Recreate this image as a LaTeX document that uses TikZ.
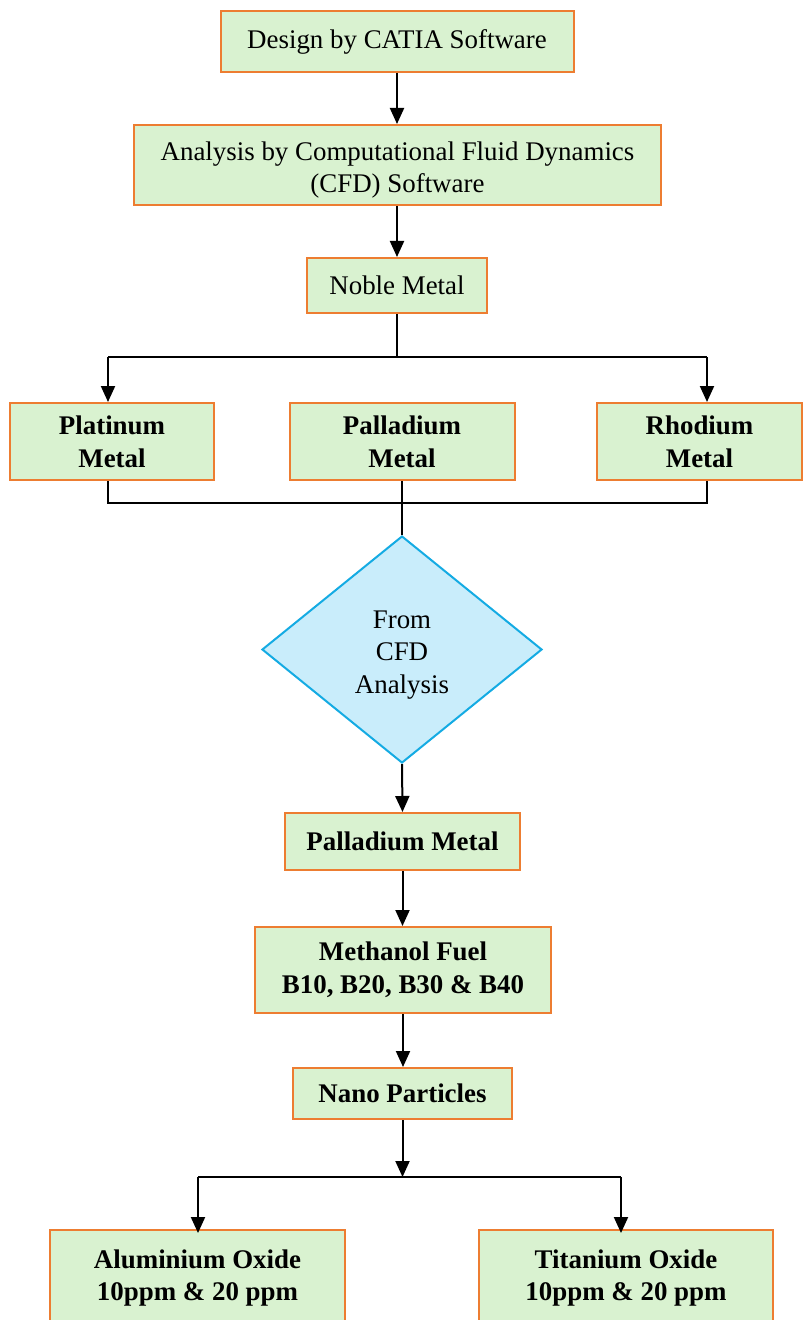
\documentclass[tikz,border=0pt]{standalone}
\usepackage{fontspec}
\setmainfont{Liberation Serif}
\usetikzlibrary{arrows.meta,shapes.geometric}
\definecolor{boxfill}{HTML}{D9F2D0}
\definecolor{boxline}{HTML}{ED7D31}
\definecolor{dfill}{HTML}{C9EDFB}
\definecolor{dline}{HTML}{14ABE3}
\newcommand{\dn}[2]{\raisebox{-#1}[\height][\depth]{\begin{tabular}{@{}c@{}}#2\end{tabular}}}
\begin{document}
\begin{tikzpicture}[x=1bp,y=-1bp,
 box/.style={draw=boxline,fill=boxfill,line width=2bp,align=center,inner sep=0pt,font=\fontsize{27}{32.5}\selectfont},
 bbox/.style={box,font=\fontsize{27}{33}\selectfont\bfseries},
 conn/.style={line width=2bp,black},
 arr/.style={conn,-{Triangle[width=14bp,length=16bp]}}]
\useasboundingbox (0,0) rectangle (803,1320);
\clip (0,0) rectangle (803,1320);
\node[box,minimum width=353bp,minimum height=61bp] (design) at (397,41.5) {Design by CATIA Software};
\node[box,minimum width=527bp,minimum height=80bp] (cfd) at (397.5,165) {\dn{5bp}{Analysis by Computational Fluid Dynamics\\(CFD) Software}};
\node[box,minimum width=180bp,minimum height=55bp] (noble) at (397,285.5) {Noble Metal};
\node[bbox,minimum width=204bp,minimum height=77bp] (plat) at (112,441.5) {\dn{3bp}{Platinum\\Metal}};
\node[bbox,minimum width=225bp,minimum height=77bp] (pall) at (402,441.5) {\dn{3bp}{Palladium\\Metal}};
\node[bbox,minimum width=205bp,minimum height=77bp] (rhod) at (699.5,441.5) {\dn{3bp}{Rhodium\\Metal}};
\node[diamond,draw=dline,fill=dfill,line width=2bp,minimum width=280bp,minimum height=227bp,inner sep=0pt,align=center,font=\fontsize{27}{32.5}\selectfont] (from) at (402,649.5) {\dn{5bp}{From\\CFD\\Analysis}};
\node[bbox,minimum width=235bp,minimum height=57bp] (pm) at (402.5,841.5) {Palladium Metal};
\node[bbox,minimum width=296bp,minimum height=86bp] (meth) at (403,970) {Methanol Fuel\\B10, B20, B30 \& B40};
\node[bbox,minimum width=219bp,minimum height=51bp] (nano) at (402.5,1093.5) {Nano Particles};
\node[bbox,minimum width=295bp,minimum height=96bp] (al) at (197.5,1278) {Aluminium Oxide\\10ppm \& 20 ppm};
\node[bbox,minimum width=294bp,minimum height=96bp] (ti) at (626,1278) {Titanium Oxide\\10ppm \& 20 ppm};
% connectors
\draw[arr] (design.south) -- (design.south |- cfd.north);
\draw[arr] (noble.north |- cfd.south) -- (noble.north);
\coordinate (f1) at (398,357);
\coordinate (fl) at (108,357);
\coordinate (fr) at (707,357);
\draw[conn] (noble.south) -- (noble.south |- f1);
\draw[conn] (fl) -- (fr);
\draw[arr] (fl) -- (fl |- plat.north);
\draw[arr] (fr) -- (fr |- rhod.north);
\coordinate (jl) at (108,503);
\coordinate (jr) at (707,503);
\draw[conn] (jl |- plat.south) -- (jl) -- (jr) -- (jr |- rhod.south);
\draw[conn] (pall.south) -- (from.north);
\draw[arr] (from.south) -- (pm.north);
\draw[arr] (pm.south) -- (pm.south |- meth.north);
\draw[arr] (meth.south) -- (meth.south |- nano.north);
\coordinate (f2) at (403,1177);
\coordinate (f2l) at (198,1177);
\coordinate (f2r) at (621,1177);
\draw[arr] (nano.south) -- (nano.south |- f2);
\draw[conn] (f2l) -- (f2r);
\draw[arr] (f2l) -- ([yshift=-4bp]f2l |- al.north);
\draw[arr] (f2r) -- ([yshift=-4bp]f2r |- ti.north);
\end{tikzpicture}
\end{document}
